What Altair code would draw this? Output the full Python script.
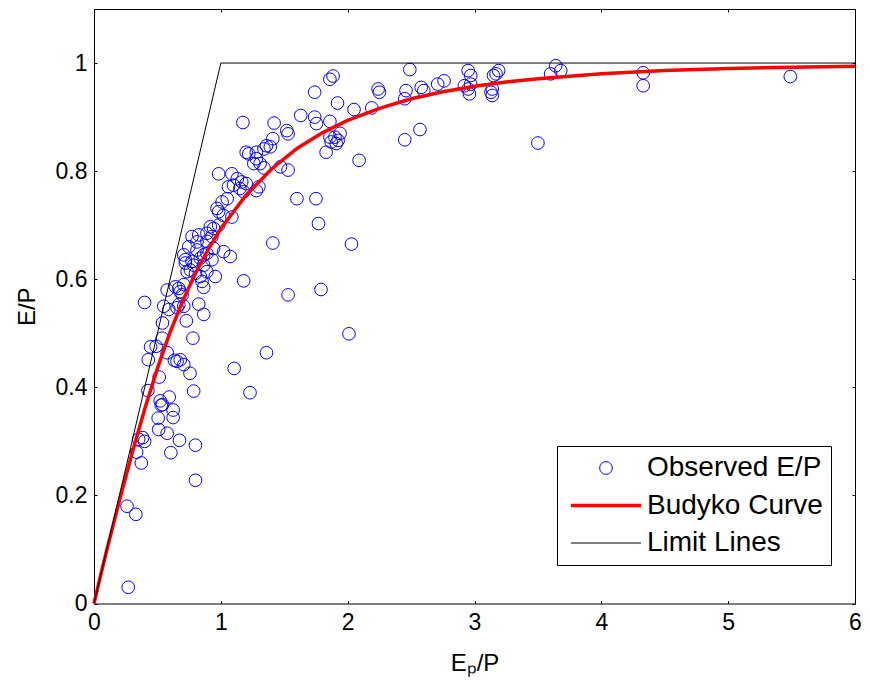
import altair as alt
import pandas as pd

# Observed E/P points (Ep/P, E/P)
obs_x = [0.27, 0.26, 0.33, 0.80, 0.373, 0.336, 0.352, 0.399, 0.383, 0.51, 0.577, 0.674, 0.80, 0.606,
         0.506, 0.624, 0.624, 0.53, 0.522, 0.593, 0.54, 0.786, 0.425, 1.23, 1.105, 0.514, 0.757, 0.708,
         0.655, 0.68, 0.634, 0.428, 0.577, 0.446, 0.49, 0.538, 0.78, 0.54, 0.728, 0.865, 0.59, 0.655,
         0.708, 0.399, 0.826, 0.669, 0.55, 0.577, 0.68, 0.669, 0.642, 0.708, 0.695, 0.865, 0.734, 0.76,
         0.80, 0.838, 0.89, 0.852, 0.956, 0.72, 0.786, 0.865, 0.708, 0.747, 0.812, 0.865, 0.943, 0.773,
         0.826, 0.89, 0.943, 0.983, 0.917, 1.074, 1.022, 1.18, 0.89, 0.93, 0.72, 0.773, 0.838, 0.93,
         0.89, 0.812,
         1.05, 1.01, 0.97, 0.983, 1.02, 1.087, 0.983, 1.087, 1.13, 1.165, 1.2, 1.1, 1.06, 1.15, 1.18,
         1.3, 1.28, 1.2, 1.28, 1.26, 1.31, 1.34, 1.47, 1.53, 1.22, 1.28, 1.34, 1.36, 1.39, 1.41, 1.174,
         1.42, 1.63, 1.52, 1.53, 1.6, 1.75, 1.77, 1.41, 1.53, 1.36, 2.01, 2.03, 1.79, 1.74, 1.754, 1.86,
         1.74, 1.86, 1.885, 1.92, 1.83, 1.86, 1.9, 1.925, 1.87, 1.91, 1.94, 2.05, 2.09, 2.19, 2.24, 2.25,
         2.46, 2.45, 2.45, 2.57, 2.49, 2.58, 2.6, 2.71, 2.76, 2.92, 2.95, 2.97, 2.96, 2.95, 2.97, 3.14,
         3.13, 3.14, 3.19, 3.15, 3.17, 3.5, 3.64, 3.68, 3.6, 4.33, 4.33, 5.49]
obs_y = [0.03, 0.18, 0.165, 0.228, 0.26, 0.28, 0.304, 0.30, 0.307, 0.322, 0.315, 0.302, 0.293, 0.279,
         0.343, 0.344, 0.358, 0.367, 0.375, 0.382, 0.368, 0.393, 0.394, 0.39, 0.435, 0.419, 0.426, 0.442,
         0.448, 0.451, 0.45, 0.451, 0.464, 0.475, 0.476, 0.491, 0.491, 0.519, 0.523, 0.535, 0.544, 0.547,
         0.55, 0.557, 0.554, 0.553, 0.55, 0.58, 0.577, 0.583, 0.586, 0.59, 0.571, 0.585, 0.614, 0.617,
         0.611, 0.605, 0.614, 0.596, 0.605, 0.63, 0.626, 0.626, 0.645, 0.66, 0.654, 0.645, 0.657, 0.679,
         0.682, 0.685, 0.694, 0.70, 0.697, 0.642, 0.651, 0.597, 0.67, 0.679, 0.636, 0.633, 0.639, 0.636,
         0.648, 0.669,
         0.749, 0.743, 0.731, 0.725, 0.718, 0.715, 0.795, 0.795, 0.786, 0.78, 0.777, 0.774, 0.771, 0.768,
         0.762, 0.771, 0.764, 0.835, 0.823, 0.814, 0.814, 0.806, 0.808, 0.802, 0.832, 0.835, 0.841,
         0.847, 0.845, 0.86, 0.89, 0.889, 0.903, 0.875, 0.869, 0.749, 0.749, 0.703, 0.667, 0.571, 0.464,
         0.499, 0.665, 0.581, 0.90, 0.888, 0.892, 0.946, 0.97, 0.976, 0.926, 0.835, 0.863, 0.863, 0.857,
         0.854, 0.851, 0.87, 0.914, 0.82, 0.917, 0.952, 0.946, 0.949, 0.934, 0.858, 0.877, 0.988, 0.955,
         0.949, 0.961, 0.967, 0.958, 0.952, 0.961, 0.943, 0.986, 0.977, 0.952, 0.946, 0.94, 0.986, 0.977,
         0.98, 0.852, 0.995, 0.986, 0.98, 0.982, 0.958, 0.975]

# Budyko curve
budyko_x = [0, 0.05, 0.1, 0.2, 0.3, 0.4, 0.5, 0.6, 0.7, 0.8, 0.9, 1.0, 1.2, 1.4, 1.6, 1.8, 2.0,
            2.25, 2.5, 2.75, 3.0, 3.25, 3.5, 4.0, 4.5, 5.0, 5.5, 6.0]
budyko_y = [0, 0.05, 0.098, 0.19, 0.278, 0.36, 0.435, 0.502, 0.56, 0.611, 0.655, 0.694, 0.756, 0.804,
            0.842, 0.871, 0.894, 0.916, 0.934, 0.947, 0.957, 0.965, 0.971, 0.98, 0.986, 0.99, 0.992, 0.994]

# Limit lines (energy and water limits)
limit_x = [0, 1, 6]
limit_y = [0, 1, 1]

series = ["Observed E/P", "Budyko Curve", "Limit Lines"]
x_ticks = [0, 1, 2, 3, 4, 5, 6]
y_ticks = [0, 0.2, 0.4, 0.6, 0.8, 1.0]

obs = pd.DataFrame({"x": obs_x, "y": obs_y, "series": series[0]})
bud = pd.DataFrame({"x": budyko_x, "y": budyko_y, "series": series[1]})
lim = pd.DataFrame({"x": limit_x, "y": limit_y, "series": series[2]})

FONT = "Liberation Sans"
xscale = alt.Scale(domain=[0, 6], nice=False, zero=False)
yscale = alt.Scale(domain=[0, 1.1], nice=False, zero=False)

tick_common = dict(tickSize=3, offset=-3, domain=False, grid=False, tickColor="black", tickWidth=1,
                   labelFont=FONT, labelColor="black", titleFont=FONT, titleColor="black",
                   titleFontWeight="normal", labelFlush=False)

x_bottom = alt.Axis(orient="bottom", values=x_ticks, format="~g", title="Eₚ/P", labelFontSize=23,
                    labelPadding=8, titleFontSize=24, titlePadding=17, **tick_common)
y_left = alt.Axis(orient="left", values=y_ticks, format="~g", title="E/P", labelFontSize=23,
                  labelPadding=7, titleFontSize=24, titlePadding=16, **tick_common)
x_top = alt.Axis(orient="top", values=x_ticks, labels=False, title="", **tick_common)
y_right = alt.Axis(orient="right", values=y_ticks, labels=False, title="", **tick_common)

# line-shaped legend symbols (custom paths in symbol units)
LINE_PATH = "M-5.55,0H5.55"
color = alt.Color("series:N", scale=alt.Scale(domain=series, range=["#0000ff", "#ff0000", "#000000"]),
                  legend=alt.Legend(title=None))
shape = alt.Shape("series:N", scale=alt.Scale(domain=series, range=["circle", LINE_PATH, LINE_PATH]),
                  legend=alt.Legend(title=None))
swidth = alt.StrokeWidth("series:N", scale=alt.Scale(type="ordinal", domain=series, range=[1, 3.5, 1]),
                         legend=alt.Legend(title=None))

points = alt.Chart(obs).mark_point(filled=False, strokeWidth=1, size=160, opacity=1).encode(
    x=alt.X("x:Q", scale=xscale, axis=x_bottom),
    y=alt.Y("y:Q", scale=yscale, axis=y_left),
    color=color, shape=shape,
)

curve = alt.Chart(bud).mark_line(opacity=1).encode(
    x=alt.X("x:Q", scale=xscale, axis=x_top),
    y=alt.Y("y:Q", scale=yscale, axis=y_right),
    color=color, strokeWidth=swidth,
)

limits = alt.Chart(lim).mark_line(opacity=1).encode(
    x=alt.X("x:Q", scale=xscale, axis=None),
    y=alt.Y("y:Q", scale=yscale, axis=None),
    color=color, strokeWidth=swidth,
)

chart = alt.layer(points, curve, limits).resolve_axis(
    x="independent", y="independent"
).properties(
    width=761, height=594.5,
    autosize=alt.AutoSizeParams(type="none"),
    padding={"left": 86, "top": 1, "right": 7, "bottom": 78},
    background="white",
).configure_view(
    stroke="black", strokeWidth=1
).configure_legend(
    orient="none", legendX=463, legendY=437,
    strokeColor="black", fillColor="white", padding=8, symbolOffset=27,
    symbolSize=160, symbolOpacity=1,
    labelFont=FONT, labelFontSize=28, labelColor="black", labelOffset=27, labelLimit=400,
    rowPadding=9.5, symbolFillColor="transparent", cornerRadius=0,
)

chart.save("out.html", embed_options={"renderer": "svg", "actions": False})
